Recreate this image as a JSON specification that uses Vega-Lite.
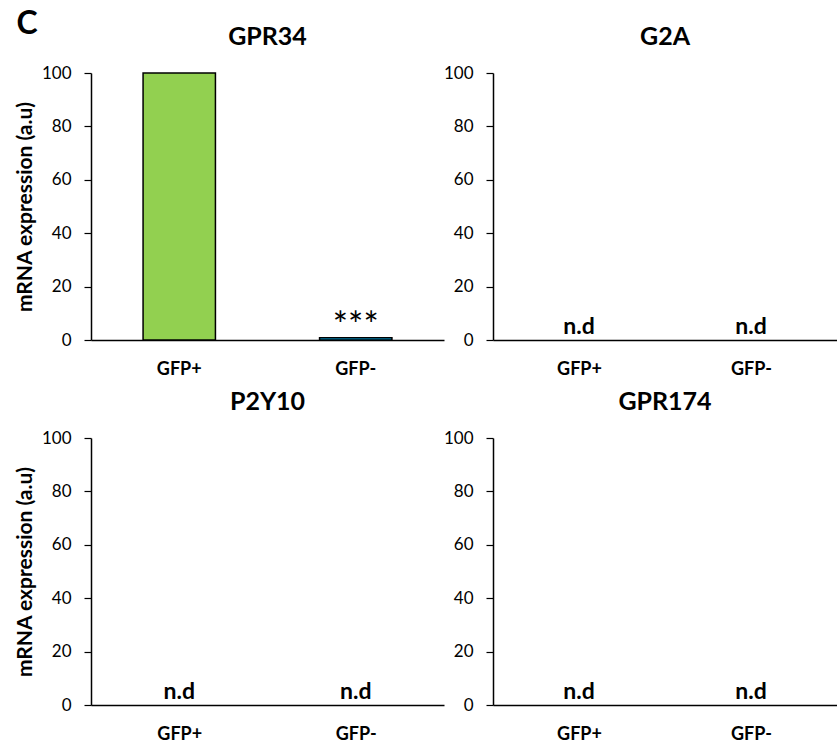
{
  "$schema": "https://vega.github.io/schema/vega-lite/v6.json",
  "background": "white",
  "padding": {"left": 14, "top": 8, "right": 0, "bottom": 0},
  "title": {"text": "C", "anchor": "start", "fontSize": 32, "fontWeight": "bold", "font": "Lato", "color": "black", "offset": -16, "dx": 2},
  "datasets": {
    "expr": [
      {"gene": "GPR34", "group": "GFP+", "value": 100, "label": ""},
      {"gene": "GPR34", "group": "GFP-", "value": 0.8, "label": "***"},
      {"gene": "G2A", "group": "GFP+", "value": 0, "label": "n.d"},
      {"gene": "G2A", "group": "GFP-", "value": 0, "label": "n.d"},
      {"gene": "P2Y10", "group": "GFP+", "value": 0, "label": "n.d"},
      {"gene": "P2Y10", "group": "GFP-", "value": 0, "label": "n.d"},
      {"gene": "GPR174", "group": "GFP+", "value": 0, "label": "n.d"},
      {"gene": "GPR174", "group": "GFP-", "value": 0, "label": "n.d"}
    ]
  },
  "config": {
    "font": "Lato",
    "view": {"stroke": null},
    "axis": {"labelFont": "Lato", "titleFont": "Lato", "labelColor": "black", "titleColor": "black", "domainColor": "black", "tickColor": "black", "grid": false},
    "title": {"font": "Lato", "fontSize": 25, "fontWeight": "bold", "color": "black", "offset": 14}
  },
  "columns": 2,
  "bounds": "flush",
  "spacing": {"column": 49, "row": 98},
  "concat": [
    {
      "title": "GPR34",
      "width": 353, "height": 267,
      "data": {"name": "expr"},
      "transform": [{"filter": "datum.gene === 'GPR34'"}],
      "encoding": {
        "x": {"field": "group", "type": "nominal", "sort": ["GFP+", "GFP-"], "scale": {"paddingInner": 0.59, "paddingOuter": 0.295},
              "axis": {"title": null, "labelAngle": 0, "ticks": false, "labelFontWeight": "bold", "labelFontSize": 18, "labelPadding": 20, "domainWidth": 1.5}},
        "y": {"field": "value", "type": "quantitative", "scale": {"domain": [0, 100]},
              "axis": {"title": "mRNA expression (a.u)", "titleFontSize": 21, "titleFontWeight": "bold", "titlePadding": 6, "values": [0, 20, 40, 60, 80, 100], "labelFontSize": 17, "labelPadding": 13, "tickSize": 7, "domainWidth": 1.5, "tickWidth": 1.2}}
      },
      "layer": [
        {"mark": {"type": "bar", "stroke": "black", "strokeWidth": 1.5},
         "encoding": {"color": {"field": "group", "type": "nominal", "scale": {"domain": ["GFP+", "GFP-"], "range": ["#92D050", "#00B0F0"]}, "legend": null}}},
        {"transform": [{"filter": "datum.label !== ''"}],
         "mark": {"type": "text", "baseline": "alphabetic", "dy": 0, "fontSize": 36, "fontWeight": "normal", "letterSpacing": 5},
         "encoding": {"text": {"field": "label"}}}
      ]
    },
    {
      "title": "G2A",
      "width": 344, "height": 267,
      "data": {"name": "expr"},
      "transform": [{"filter": "datum.gene === 'G2A'"}],
      "encoding": {
        "x": {"field": "group", "type": "nominal", "sort": ["GFP+", "GFP-"], "scale": {"paddingInner": 0.59, "paddingOuter": 0.295},
              "axis": {"title": null, "labelAngle": 0, "ticks": false, "labelFontWeight": "bold", "labelFontSize": 18, "labelPadding": 20, "domainWidth": 1.5}},
        "y": {"field": "value", "type": "quantitative", "scale": {"domain": [0, 100]},
              "axis": {"title": null, "values": [0, 20, 40, 60, 80, 100], "labelFontSize": 17, "labelPadding": 13, "tickSize": 7, "domainWidth": 1.5, "tickWidth": 1.2}}
      },
      "layer": [
        {"mark": {"type": "text", "baseline": "alphabetic", "dy": -6, "fontSize": 23, "fontWeight": "bold"},
         "encoding": {"text": {"field": "label"}}}
      ]
    },
    {
      "title": "P2Y10",
      "width": 353, "height": 267,
      "data": {"name": "expr"},
      "transform": [{"filter": "datum.gene === 'P2Y10'"}],
      "encoding": {
        "x": {"field": "group", "type": "nominal", "sort": ["GFP+", "GFP-"], "scale": {"paddingInner": 0.59, "paddingOuter": 0.295},
              "axis": {"title": null, "labelAngle": 0, "ticks": false, "labelFontWeight": "bold", "labelFontSize": 18, "labelPadding": 20, "domainWidth": 1.5}},
        "y": {"field": "value", "type": "quantitative", "scale": {"domain": [0, 100]},
              "axis": {"title": "mRNA expression (a.u)", "titleFontSize": 21, "titleFontWeight": "bold", "titlePadding": 6, "values": [0, 20, 40, 60, 80, 100], "labelFontSize": 17, "labelPadding": 13, "tickSize": 7, "domainWidth": 1.5, "tickWidth": 1.2}}
      },
      "layer": [
        {"mark": {"type": "text", "baseline": "alphabetic", "dy": -6, "fontSize": 23, "fontWeight": "bold"},
         "encoding": {"text": {"field": "label"}}}
      ]
    },
    {
      "title": "GPR174",
      "width": 344, "height": 267,
      "data": {"name": "expr"},
      "transform": [{"filter": "datum.gene === 'GPR174'"}],
      "encoding": {
        "x": {"field": "group", "type": "nominal", "sort": ["GFP+", "GFP-"], "scale": {"paddingInner": 0.59, "paddingOuter": 0.295},
              "axis": {"title": null, "labelAngle": 0, "ticks": false, "labelFontWeight": "bold", "labelFontSize": 18, "labelPadding": 20, "domainWidth": 1.5}},
        "y": {"field": "value", "type": "quantitative", "scale": {"domain": [0, 100]},
              "axis": {"title": null, "values": [0, 20, 40, 60, 80, 100], "labelFontSize": 17, "labelPadding": 13, "tickSize": 7, "domainWidth": 1.5, "tickWidth": 1.2}}
      },
      "layer": [
        {"mark": {"type": "text", "baseline": "alphabetic", "dy": -6, "fontSize": 23, "fontWeight": "bold"},
         "encoding": {"text": {"field": "label"}}}
      ]
    }
  ]
}
